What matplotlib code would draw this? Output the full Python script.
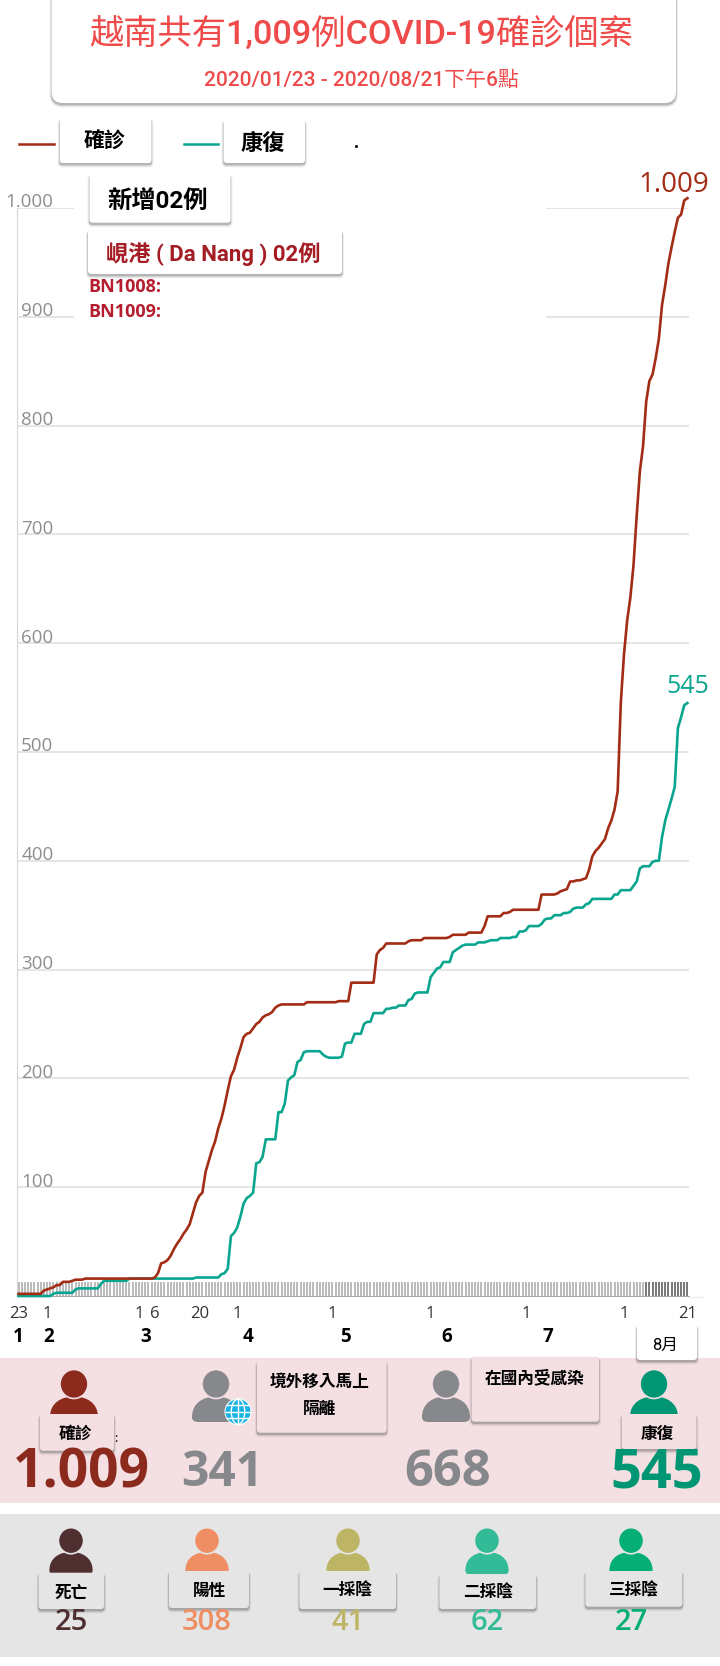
import numpy as np
import matplotlib
matplotlib.use("Agg")
import matplotlib.pyplot as plt
from matplotlib.patches import FancyBboxPatch, Ellipse, PathPatch, Rectangle, Circle
from matplotlib.path import Path

CJK = ['Roboto', 'Noto Sans CJK TC', 'DejaVu Sans']
NUM = ['Open Sans', 'DejaVu Sans']

# daily totals from 2020/01/23 to 2020/08/21
confirmed = [2, 2, 2, 2, 2, 2, 2, 2, 5, 6, 7, 8, 10, 10, 13, 13, 13, 14, 15, 15, 15, 16,
             16, 16, 16, 16, 16, 16, 16, 16, 16, 16, 16, 16, 16, 16, 16, 16, 16, 16, 16, 16, 16,
             17, 21, 30, 31, 33, 37, 43, 48, 52, 57, 61, 66, 76, 86, 92, 95, 114, 124, 134, 142,
             154, 163, 175, 189, 202, 208, 219, 228, 238, 241, 242, 246, 250, 252, 256, 258, 259,
             261, 265, 267, 268, 268, 268, 268, 268, 268, 268, 268, 270, 270, 270, 270, 270, 270,
             270, 270, 270, 270, 271, 271, 271, 271, 288, 288, 288, 288, 288, 288, 288, 288, 314,
             318, 320, 324, 324, 324, 324, 324, 324, 324, 326, 327, 327, 327, 327, 329, 329, 329,
             329, 329, 329, 329, 329, 330, 332, 332, 332, 332, 332, 334, 334, 334, 334, 334, 340,
             349, 349, 349, 349, 349, 352, 352, 353, 355, 355, 355, 355, 355, 355, 355, 355, 355,
             369, 369, 369, 369, 369, 370, 372, 373, 374, 381, 381, 382, 382, 383, 384, 392, 404,
             409, 412, 416, 420, 430, 437, 447, 464, 546, 590, 621, 642, 672, 717, 758, 781, 822,
             841, 847, 862, 880, 911, 929, 949, 964, 978, 991, 994, 1007, 1009]
recovered = [0, 0, 0, 0, 0, 0, 0, 0, 0, 0, 0, 2, 3, 3, 3, 3, 3, 3, 6, 7, 7, 7, 7, 7, 7, 7,
             11, 14, 14, 14, 14, 14, 14, 14, 14, 16, 16, 16, 16, 16, 16, 16, 16, 16, 16, 16, 16,
             16, 16, 16, 16, 16, 16, 16, 16, 16, 17, 17, 17, 17, 17, 17, 17, 17, 20, 21, 25, 55,
             58, 63, 73, 85, 90, 92, 95, 122, 123, 128, 144, 144, 144, 144, 169, 169, 177, 198,
             201, 203, 215, 217, 224, 225, 225, 225, 225, 225, 222, 220, 219, 219, 219, 219, 220,
             232, 233, 233, 241, 241, 241, 250, 252, 252, 260, 260, 260, 260, 264, 264, 265, 265,
             267, 267, 267, 272, 273, 278, 279, 279, 279, 279, 293, 297, 301, 302, 307, 307, 307,
             316, 318, 320, 322, 323, 323, 323, 323, 325, 325, 325, 326, 327, 327, 327, 329, 329,
             329, 329, 330, 330, 335, 335, 336, 340, 340, 340, 340, 342, 346, 347, 347, 350, 350,
             350, 352, 352, 353, 356, 357, 357, 357, 360, 361, 365, 365, 365, 365, 365, 365, 365,
             369, 369, 373, 373, 373, 373, 377, 381, 393, 395, 395, 395, 399, 400, 400, 422, 437,
             447, 457, 468, 522, 532, 543, 545]

y_ticks = [100, 200, 300, 400, 500, 600, 700, 800, 900, 1000]
y_labels = ['100', '200', '300', '400', '500', '600', '700', '800', '900', '1.000']
day_ticks = [0, 9, 38, 43, 57, 69, 99, 130, 160, 191, 211]
day_labels = ['23', '1', '1', '6', '20', '1', '1', '1', '1', '1', '21']
month_pos = [0, 9.6, 40, 72.5, 103, 135.2, 167]
month_labels = ['1', '2', '3', '4', '5', '6', '7']

RED = '#a32c14'
TEAL = '#0aa58f'
BROWN = '#8c2a1e'
GREY = '#87888c'
GREEN = '#009674'
PINK = '#f4dfe3'
LGREY = '#e5e5e5'

# head x and colour of the four big figures
top_people = [(74, BROWN), (216, GREY), (446, GREY), (654, GREEN)]
bottom_names = ['死亡', '陽性', '一採陰', '二採陰', '三採陰']
bottom_counts = [25, 308, 41, 62, 27]
bottom_colors = ['#4f2f2f', '#ef8d63', '#bdb565', '#33bb98', '#05ae75']
bottom_x = [71, 207, 348, 487, 631]


def card(ax, x0, y0, x1, y1, fc='white', r=3):
    # soft shadow under the box, then the box
    for grow, off, a in [(2.0, 2.5, 0.07), (1.2, 2.2, 0.12), (0.5, 1.8, 0.25)]:
        pad = r + grow
        ax.add_patch(FancyBboxPatch((x0 + r, y0 + r + off), x1 - x0 - 2 * r, y1 - y0 - 2 * r,
                                    boxstyle=f'round,pad={pad},rounding_size={pad}',
                                    fc='#444444', ec='none', alpha=a))
    ax.add_patch(FancyBboxPatch((x0 + r, y0 + r), x1 - x0 - 2 * r, y1 - y0 - 2 * r,
                                boxstyle=f'round,pad={r},rounding_size={r}', fc=fc, ec='none'))


def person(ax, cx, cy, color, bg, s=1.0):
    w = 48 * s
    ty = cy + 12.5 * s
    by = cy + 38 * s
    verts = [(cx - w / 2, by - 5 * s),
             (cx - w / 2, ty + 6 * s), (cx - w * 0.25, ty), (cx, ty),
             (cx + w * 0.25, ty), (cx + w / 2, ty + 6 * s), (cx + w / 2, by - 5 * s),
             (cx + w / 2, by - 1), (cx + w / 2 - 3, by), (cx + w / 2 - 7, by),
             (cx - w / 2 + 7, by),
             (cx - w / 2 + 3, by), (cx - w / 2, by - 1), (cx - w / 2, by - 5 * s)]
    codes = [Path.MOVETO] + [Path.CURVE4] * 9 + [Path.LINETO] + [Path.CURVE4] * 3
    ax.add_patch(PathPatch(Path(verts, codes), fc=color, ec='none'))
    ax.add_patch(Ellipse((cx, cy), 28 * s, 29 * s, fc=color, ec=bg, lw=1.2))


def globe(ax, cx, cy, r):
    ax.add_patch(Circle((cx, cy), r, fc='white', ec='none'))
    ax.add_patch(Circle((cx, cy), r - 1, fc='#19b2e3', ec='none'))
    ax.add_patch(Ellipse((cx, cy), r, 2 * r - 2, fc='none', ec='white', lw=1))
    for dy in (-r * 0.5, 0, r * 0.5):
        half = np.sqrt((r - 1) ** 2 - dy ** 2)
        ax.plot([cx - half, cx + half], [cy + dy, cy + dy], color='white', lw=1)
    ax.plot([cx, cx], [cy - r + 1, cy + r - 1], color='white', lw=1)


def main():
    assert len(confirmed) == 212 and len(recovered) == 212
    W, H = 720, 1666
    fig = plt.figure(figsize=(7.2, 16.66), dpi=100, facecolor='white')

    # chart area, pixel box 17..689 by 208..1296
    ax = fig.add_axes([17.3 / W, 1 - 1296 / H, (689 - 17.3) / W, (1296 - 208) / H])
    days = np.arange(len(confirmed))
    ax.set_xlim(-0.38, 211.5)
    ax.set_ylim(0, 1000)
    ax.plot(days, recovered, color=TEAL, lw=1.9, clip_on=False, zorder=3)
    ax.plot(days, confirmed, color=RED, lw=1.9, clip_on=False, zorder=3)
    ax.vlines(days[days < 198], 0, 12.5, color='#a8a8a8', lw=1.1, zorder=1)
    ax.vlines(days[days >= 198], 0, 12.5, color='#555555', lw=1.1, zorder=1)

    for s in ['top', 'right']:
        ax.spines[s].set_visible(False)
    ax.spines['left'].set_color('#d6d6d6')
    ax.spines['bottom'].set_color('#a8a8a8')
    ax.set_yticks(y_ticks)
    ax.set_yticklabels([])
    ax.grid(axis='y', color='#dedede', lw=1.1)
    ax.set_axisbelow(True)
    ax.tick_params(axis='both', length=0)
    ax.set_xticks(day_ticks)
    ax.set_xticklabels(day_labels, fontsize=12, color='#333333', family=NUM)
    ax.tick_params(axis='x', pad=7.5)
    for v, lab in zip(y_ticks, y_labels):
        ax.annotate(lab, xy=(0, v), xycoords=('axes fraction', 'data'),
                    xytext=(26, 4), textcoords='offset points', ha='right', va='center',
                    fontsize=13.5, color='#8e8e8e', family=NUM)
    for d, lab in zip(month_pos, month_labels):
        ax.text(d, -37.7, lab, ha='center', va='center', fontsize=13.5, weight='bold',
                color='black', family=NUM, clip_on=False)
    ax.annotate('1.009', xy=(days[-1], confirmed[-1]), xytext=(-9.5, 9.5),
                textcoords='offset points', fontsize=20, color=RED, family=NUM,
                ha='center', va='center', annotation_clip=False)
    ax.annotate('545', xy=(days[-1], recovered[-1]), xytext=(0, 11.7),
                textcoords='offset points', fontsize=18, color=TEAL, family=NUM,
                ha='center', va='center', annotation_clip=False)

    # everything else is placed in image pixels on a see-through layer
    ov = fig.add_axes([0, 0, 1, 1], facecolor='none')
    ov.set_xlim(0, W)
    ov.set_ylim(H, 0)
    ov.axis('off')

    # white block that hides the top gridlines
    ov.add_patch(Rectangle((74, 166), 472, 154, fc='white', ec='none'))
    # short light stub past the end of the axis
    ov.plot([689, 703], [1296.5, 1296.5], color='#eeeeee', lw=1)

    card(ov, 51.5, -20, 676, 103, r=11)
    ov.text(361.5, 35, '越南共有1,009例COVID-19確診個案', ha='center', va='center',
            fontsize=24.7, weight='medium', color='#ef4b4b', family=CJK)
    ov.text(361, 80, '2020/01/23 - 2020/08/21下午6點', ha='center', va='center',
            fontsize=15, weight='medium', color='#ef4b4b', family=CJK)

    # legend
    ov.plot([19.3, 53.7], [143.7, 143.7], color=RED, lw=1.8)
    ov.plot([183.7, 218], [143.7, 143.7], color=TEAL, lw=1.8)
    card(ov, 59.7, 118, 151.5, 163)
    ov.text(105, 141, '確診', ha='center', va='center', fontsize=15, weight='bold', family=CJK)
    card(ov, 223.6, 120, 305, 163)
    ov.text(263, 144, '康復', ha='center', va='center', fontsize=16, weight='bold', family=CJK)
    ov.plot([356], [146], marker='s', ms=1, color='black')

    # new cases note
    card(ov, 89.5, 174, 230.5, 222.7)
    ov.text(158, 201, '新增02例', ha='center', va='center', fontsize=17.5, weight='bold', family=CJK)
    card(ov, 88, 230, 342, 274)
    ov.text(212.8, 254, '峴港 ( Da Nang ) 02例', ha='center', va='center', fontsize=16,
            weight='bold', color='#a51d24', family=CJK)
    ov.text(88, 286.7, 'BN1008:', va='center', fontsize=13, weight='bold', color='#b51d2e', family=NUM)
    ov.text(88, 312, 'BN1009:', va='center', fontsize=13, weight='bold', color='#b51d2e', family=NUM)

    # summary bands
    ov.add_patch(Rectangle((0, 1358), W, 145, fc=PINK, ec='none'))
    ov.add_patch(Rectangle((0, 1514), W, 143, fc=LGREY, ec='none'))

    card(ov, 637, 1325, 697, 1360)
    ov.text(665, 1345, '8月', ha='center', va='center', fontsize=12, family=CJK)

    for cx, col in top_people:
        person(ov, cx, 1384, col, PINK)
    globe(ov, 238, 1411.7, 13.5)

    card(ov, 40, 1414, 114, 1450.7, fc=PINK)
    ov.text(75, 1434, '確診', ha='center', va='center', fontsize=12, weight='bold', family=CJK)
    ov.text(115.7, 1438, ':', ha='center', va='center', fontsize=9, family=NUM)
    card(ov, 257, 1361, 386.6, 1432.7, fc=PINK)
    ov.text(320, 1382, '境外移入馬上', ha='center', va='center', fontsize=12, weight='bold', family=CJK)
    ov.text(320, 1409, '隔離', ha='center', va='center', fontsize=12, weight='bold', family=CJK)
    card(ov, 471.5, 1356.7, 599, 1421.7, fc=PINK)
    ov.text(535, 1378, '在國內受感染', ha='center', va='center', fontsize=12, weight='bold', family=CJK)
    card(ov, 621.7, 1414, 696.5, 1449, fc=PINK)
    ov.text(657.5, 1434, '康復', ha='center', va='center', fontsize=12, weight='bold', family=CJK)

    for x, val, col, fs in [(81, '1.009', BROWN, 38.5), (222, '341', GREY, 34.5),
                            (447.6, '668', GREY, 36.5), (656.8, '545', GREEN, 39)]:
        ov.text(x, 1473, val, ha='center', va='center', fontsize=fs, weight='bold',
                color=col, family=NUM)

    # bottom row
    cards = [(38.6, 1572.7, 104, 1609), (169, 1571, 249, 1608), (299.4, 1571, 396, 1609),
             (439.4, 1574, 536, 1609), (585.4, 1571, 682.3, 1606.7)]
    name_y = [1593, 1591.7, 1590.7, 1592.7, 1590.7]
    for i, name in enumerate(bottom_names):
        cx = bottom_x[i]
        person(ov, cx, 1540.7, bottom_colors[i], LGREY, s=0.9)
        x0, y0, x1, y1 = cards[i]
        card(ov, x0, y0, x1, y1, fc=LGREY)
        ov.text((x0 + x1) / 2, name_y[i], name, ha='center', va='center', fontsize=12,
                weight='bold', family=CJK)
        ov.text(cx, 1623, str(bottom_counts[i]), ha='center', va='center', fontsize=21,
                weight='semibold', color=bottom_colors[i], family=NUM)

    fig.savefig('out.png', dpi=100)


if __name__ == "__main__":
    main()
